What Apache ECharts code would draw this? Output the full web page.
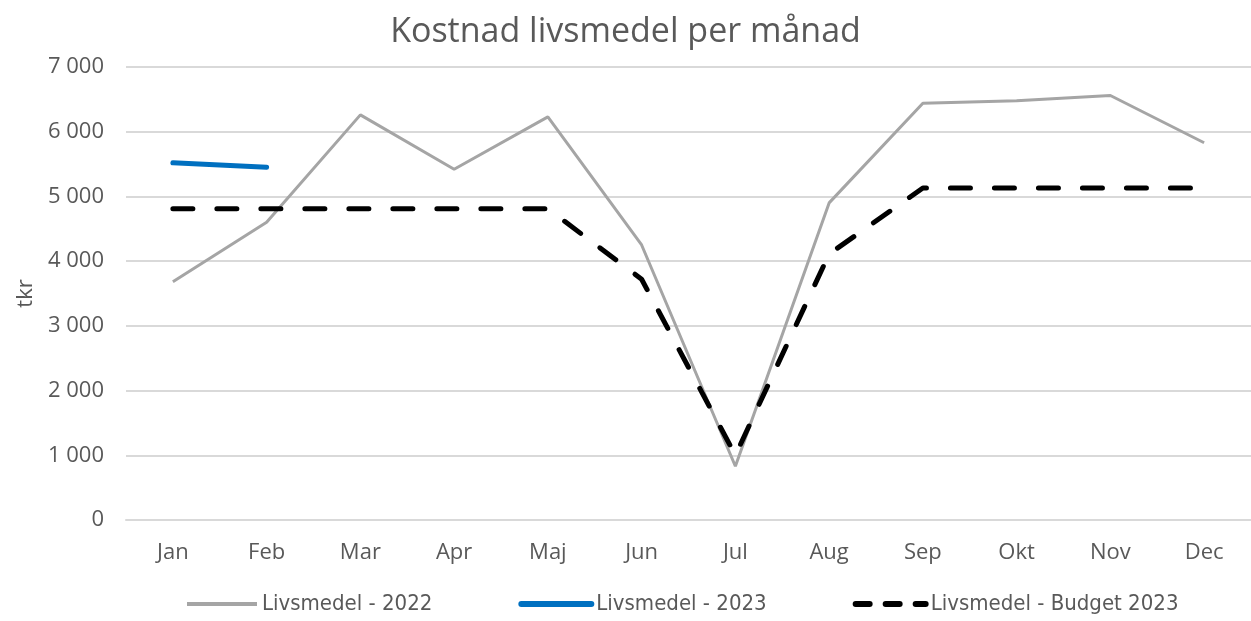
<!DOCTYPE html>
<html><head><meta charset="utf-8">
<script src="https://cdn.jsdelivr.net/npm/echarts@6/dist/echarts.min.js"></script>
<style>html,body{margin:0;padding:0;background:#fff}#c{width:1251px;height:621px}</style>
</head><body><div id="c"></div>
<script>
const categories = ['Jan','Feb','Mar','Apr','Maj','Jun','Jul','Aug','Sep','Okt','Nov','Dec'];
const livsmedel2022 = [3680, 4600, 6260, 5420, 6230, 4250, 830, 4900, 6440, 6480, 6560, 5830];
const livsmedel2023 = [5520, 5450, null, null, null, null, null, null, null, null, null, null];
const budget2023 = [4810, 4810, 4810, 4810, 4810, 3720, 1000, 4110, 5130, 5130, 5130, 5130];
const yTicks = [0, 1000, 2000, 3000, 4000, 5000, 6000, 7000];

const chart = echarts.init(document.getElementById('c'));
const tickFont = "'Open Sans', 'Noto Sans', sans-serif";
const legFont = "'Liberation Sans Narrow', 'DejaVu Sans Condensed', 'Noto Sans', sans-serif";
chart.setOption({
  animation: false,
  title: {
    text: 'Kostnad livsmedel per månad', left: 'center', top: 10,
    textStyle: { fontFamily: tickFont, fontSize: 34, fontWeight: 'normal', color: '#595959' }
  },
  grid: { left: 126, right: 0, top: 67, bottom: 101 },
  legend: {
    bottom: 1, left: 180, itemWidth: 70, itemHeight: 12, itemGap: 86,
    itemStyle: { opacity: 0 },
    textStyle: { fontFamily: legFont, fontSize: 22, color: '#595959' },
    data: [
      { name: 'Livsmedel - 2022', lineStyle: { width: 4, color: '#A5A5A5' } },
      { name: 'Livsmedel - 2023', lineStyle: { width: 6, color: '#0070C0', cap: 'round' } },
      { name: 'Livsmedel - Budget 2023', lineStyle: { width: 6, color: '#000000', type: [14, 16], cap: 'round' } }
    ]
  },
  xAxis: {
    type: 'category', data: categories, boundaryGap: true,
    axisLine: { lineStyle: { color: '#D9D9D9', width: 2 } },
    axisTick: { show: false },
    axisLabel: { fontFamily: tickFont, fontSize: 22, color: '#595959', margin: 22 }
  },
  yAxis: {
    type: 'value', min: yTicks[0], max: yTicks[yTicks.length - 1], interval: 1000,
    name: 'tkr', nameLocation: 'middle', nameGap: 84, nameRotate: 90,
    nameTextStyle: { fontFamily: tickFont, fontSize: 22, color: '#595959' },
    axisLine: { show: false }, axisTick: { show: false },
    splitLine: { lineStyle: { color: '#D9D9D9', width: 2 } },
    axisLabel: {
      fontFamily: tickFont, fontSize: 22, color: '#595959', margin: 22,
      formatter: v => String(v).replace(/\B(?=(\d{3})+(?!\d))/g, ' ')
    }
  },
  series: [
    { name: 'Livsmedel - 2022', type: 'line', data: livsmedel2022, symbol: 'none',
      lineStyle: { color: '#A5A5A5', width: 3 }, itemStyle: { color: '#A5A5A5' } },
    { name: 'Livsmedel - 2023', type: 'line', data: livsmedel2023, symbol: 'none',
      lineStyle: { color: '#0070C0', width: 5, cap: 'round' }, itemStyle: { color: '#0070C0' } },
    { name: 'Livsmedel - Budget 2023', type: 'line', data: budget2023, symbol: 'none',
      lineStyle: { color: '#000000', width: 5, type: [20, 24], cap: 'round' }, itemStyle: { color: '#000000' } }
  ]
});
</script></body></html>
